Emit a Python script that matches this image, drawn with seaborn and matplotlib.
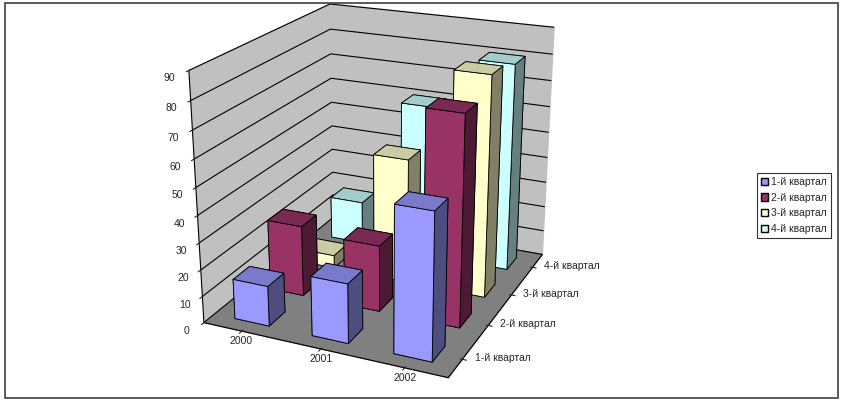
import numpy as np
import seaborn as sns
import matplotlib.pyplot as plt
from matplotlib.colors import to_rgb
from matplotlib.patches import Patch, Rectangle

sns.set_style("white")
plt.rcParams['font.family'] = ['Liberation Sans', 'DejaVu Sans']

# данные
years = ['2000', '2001', '2002']
quarters = ['1-й квартал', '2-й квартал', '3-й квартал', '4-й квартал']
q1 = [15, 22, 53]
q2 = [27, 25, 77]
q3 = [5, 48, 83]
q4 = [17, 60, 80]
values = [q1, q2, q3, q4]
colors = sns.color_palette(['#9999FF', '#993366', '#FFFFCC', '#CCFFFF'])


def faces(c):
    # bottom, top, front(-y), back(+y), left(-x), right(+x)
    c = np.array(to_rgb(c))
    return [c, c * 0.8, c, c, c * 0.5, c * 0.5]


fig = plt.figure(figsize=(8.58, 4.07), dpi=100)
ax = fig.add_axes([0.165, 0.065, 0.55, 1.0], projection='3d')
ax.set_proj_type('persp', focal_length=0.55)
ax.view_init(elev=21, azim=-66)
ax.set_box_aspect((250, 280, 250), zoom=1.1)

w = 0.45
# рисуем с дальнего ряда к ближнему
for j in range(len(quarters) - 1, -1, -1):
    for i in range(len(years)):
        ax.bar3d(i - w / 2, j - w / 2, 0, w, w, values[j][i],
                 color=faces(colors[j]), edgecolor='black', linewidth=0.6, shade=False)

ax.set_xlim(-0.5, 2.5)
ax.set_ylim(-0.5, 3.5)
ax.set_zlim(0, 90)
ax.set_xticks(range(len(years)))
ax.set_xticklabels([])
ax.set_yticks(range(len(quarters)))
ax.set_yticklabels([])
ax.set_zticks(range(0, 91, 10))
ax.tick_params(axis='z', labelsize=7.5, pad=-1)
ax.zaxis.set_ticks_position('lower')

# подписи категорий ближе к осям, как в Excel
for i, yr in enumerate(years):
    ax.text(i + 0.05, -0.62, 0, yr, fontsize=7.5, ha='center', va='top')
for j, q in enumerate(quarters):
    ax.text(2.62, j + 0.1, 0, q, fontsize=7.5, ha='left', va='center')

ax.xaxis.set_pane_color('#C0C0C0')
ax.yaxis.set_pane_color('#C0C0C0')
ax.zaxis.set_pane_color('#808080')
for a in (ax.xaxis, ax.yaxis, ax.zaxis):
    a._axinfo['grid']['color'] = (0, 0, 0, 0)
    a.line.set_color('black')
    a.line.set_linewidth(0.8)
ax.zaxis._axinfo['grid']['color'] = 'black'
ax.zaxis._axinfo['grid']['linewidth'] = 0.8

handles = [Patch(facecolor=c, edgecolor='black', label=q) for c, q in zip(colors, quarters)]
leg = fig.legend(handles=handles, loc='center left', bbox_to_anchor=(0.876, 0.495),
                 fontsize=7.5, frameon=True, fancybox=False, handlelength=0.7,
                 handleheight=0.7, handletextpad=0.3, borderpad=0.4, labelspacing=0.55)
leg.get_frame().set_edgecolor('black')
leg.get_frame().set_linewidth(0.8)

# рамка области диаграммы
fig.patches.append(Rectangle((0.006, 0.022), 0.971, 0.97, transform=fig.transFigure,
                             fill=False, edgecolor='#404040', linewidth=1.2))

fig.savefig('out.png', dpi=100)
